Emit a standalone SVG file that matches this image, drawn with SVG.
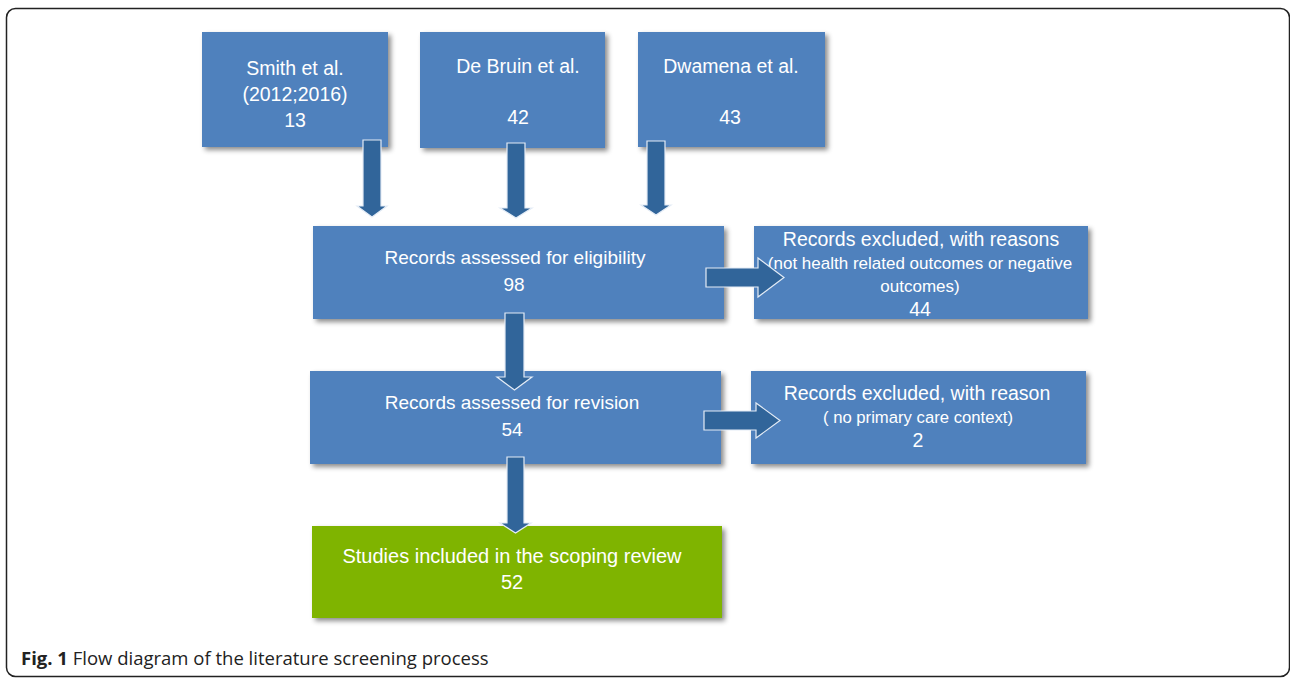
<svg xmlns="http://www.w3.org/2000/svg" width="1290" height="679" viewBox="0 0 1290 679">
<defs>
<filter id="sh" x="-10%" y="-10%" width="125%" height="130%">
<feDropShadow dx="3" dy="3" stdDeviation="2.5" flood-color="#000" flood-opacity="0.45"/>
</filter>
<style>
.box{fill:#4F81BD;filter:url(#sh)}
.green{fill:#7FB401;filter:url(#sh)}
.arr{fill:#31659A;stroke:#E4ECF6;stroke-width:1.2}
text{font-family:"Liberation Sans",Arial,sans-serif;fill:#fff;text-anchor:middle}
.t18{font-size:19px}
.t19{font-size:19.5px}
.t16{font-size:17px}
.t16b{font-size:16.7px}
.t20{font-size:20px}
.cap{font-family:"Open Sans","Noto Sans",sans-serif;fill:#222;text-anchor:start;font-size:18.5px}
</style>
</defs>
<rect x="6.5" y="8.5" width="1283" height="668" rx="9" fill="#fff" stroke="#222" stroke-width="1.5"/>

<g id="smith">
<rect class="box" x="202" y="32" width="186" height="115"/>
<text class="t19" x="295" y="75">Smith et al.</text>
<text class="t19" x="295" y="101">(2012;2016)</text>
<text class="t19" x="295" y="127">13</text>
</g>
<g id="debruin">
<rect class="box" x="420" y="32" width="185" height="116"/>
<text class="t19" x="518" y="73">De Bruin et al.</text>
<text class="t19" x="518" y="124">42</text>
</g>
<g id="dwamena">
<rect class="box" x="638" y="32" width="187" height="115"/>
<text class="t19" x="731" y="73">Dwamena et al.</text>
<text class="t19" x="730" y="124">43</text>
</g>
<g id="eligibility">
<rect class="box" x="313" y="226" width="411" height="93"/>
<text class="t18" x="515" y="264">Records assessed for eligibility</text>
<text class="t18" x="514" y="291">98</text>
</g>
<g id="excluded1">
<rect class="box" x="754" y="226" width="334" height="93"/>
<text class="t19" x="921" y="246">Records excluded, with reasons</text>
<text class="t16" x="920" y="269">(not health related outcomes or negative</text>
<text class="t16" x="920" y="292">outcomes)</text>
<text class="t19" x="920" y="316">44</text>
</g>
<g id="revision">
<rect class="box" x="310" y="371" width="411" height="93"/>
<text class="t18" x="512" y="409">Records assessed for revision</text>
<text class="t18" x="512" y="436">54</text>
</g>
<g id="excluded2">
<rect class="box" x="751" y="371" width="335" height="93"/>
<text class="t19" x="917" y="400">Records excluded, with reason</text>
<text class="t16b" x="918" y="423">( no primary care context)</text>
<text class="t19" x="918" y="447">2</text>
</g>
<g id="studies">
<rect class="green" x="312" y="526" width="410" height="92"/>
<text class="t20" x="512" y="563">Studies included in the scoping review</text>
<text class="t20" x="512" y="589">52</text>
</g>

<g id="connectors">
<polygon class="arr" points="363,140 381,140 381,206 387,206 372,217 357,206 363,206"/>
<polygon class="arr" points="507,143 525,143 525,208 532,208 516,218 500,208 507,208"/>
<polygon class="arr" points="647,141 665,141 665,205 671,205 656,215 641,205 647,205"/>
<polygon class="arr" points="505,313 524,313 524,377 532,377 514.5,390 497,377 505,377"/>
<polygon class="arr" points="507,457 524,457 524,523 531,523 515.5,533 500,523 507,523"/>
<polygon class="arr" points="706,268 758,268 758,258 784,277.5 758,297 758,287 706,287"/>
<polygon class="arr" points="704,411 756,411 756,403 780,420.5 756,438 756,430 704,430"/>
</g>

<text class="cap" x="21" y="665"><tspan font-weight="bold">Fig. 1</tspan> Flow diagram of the literature screening process</text>
</svg>
